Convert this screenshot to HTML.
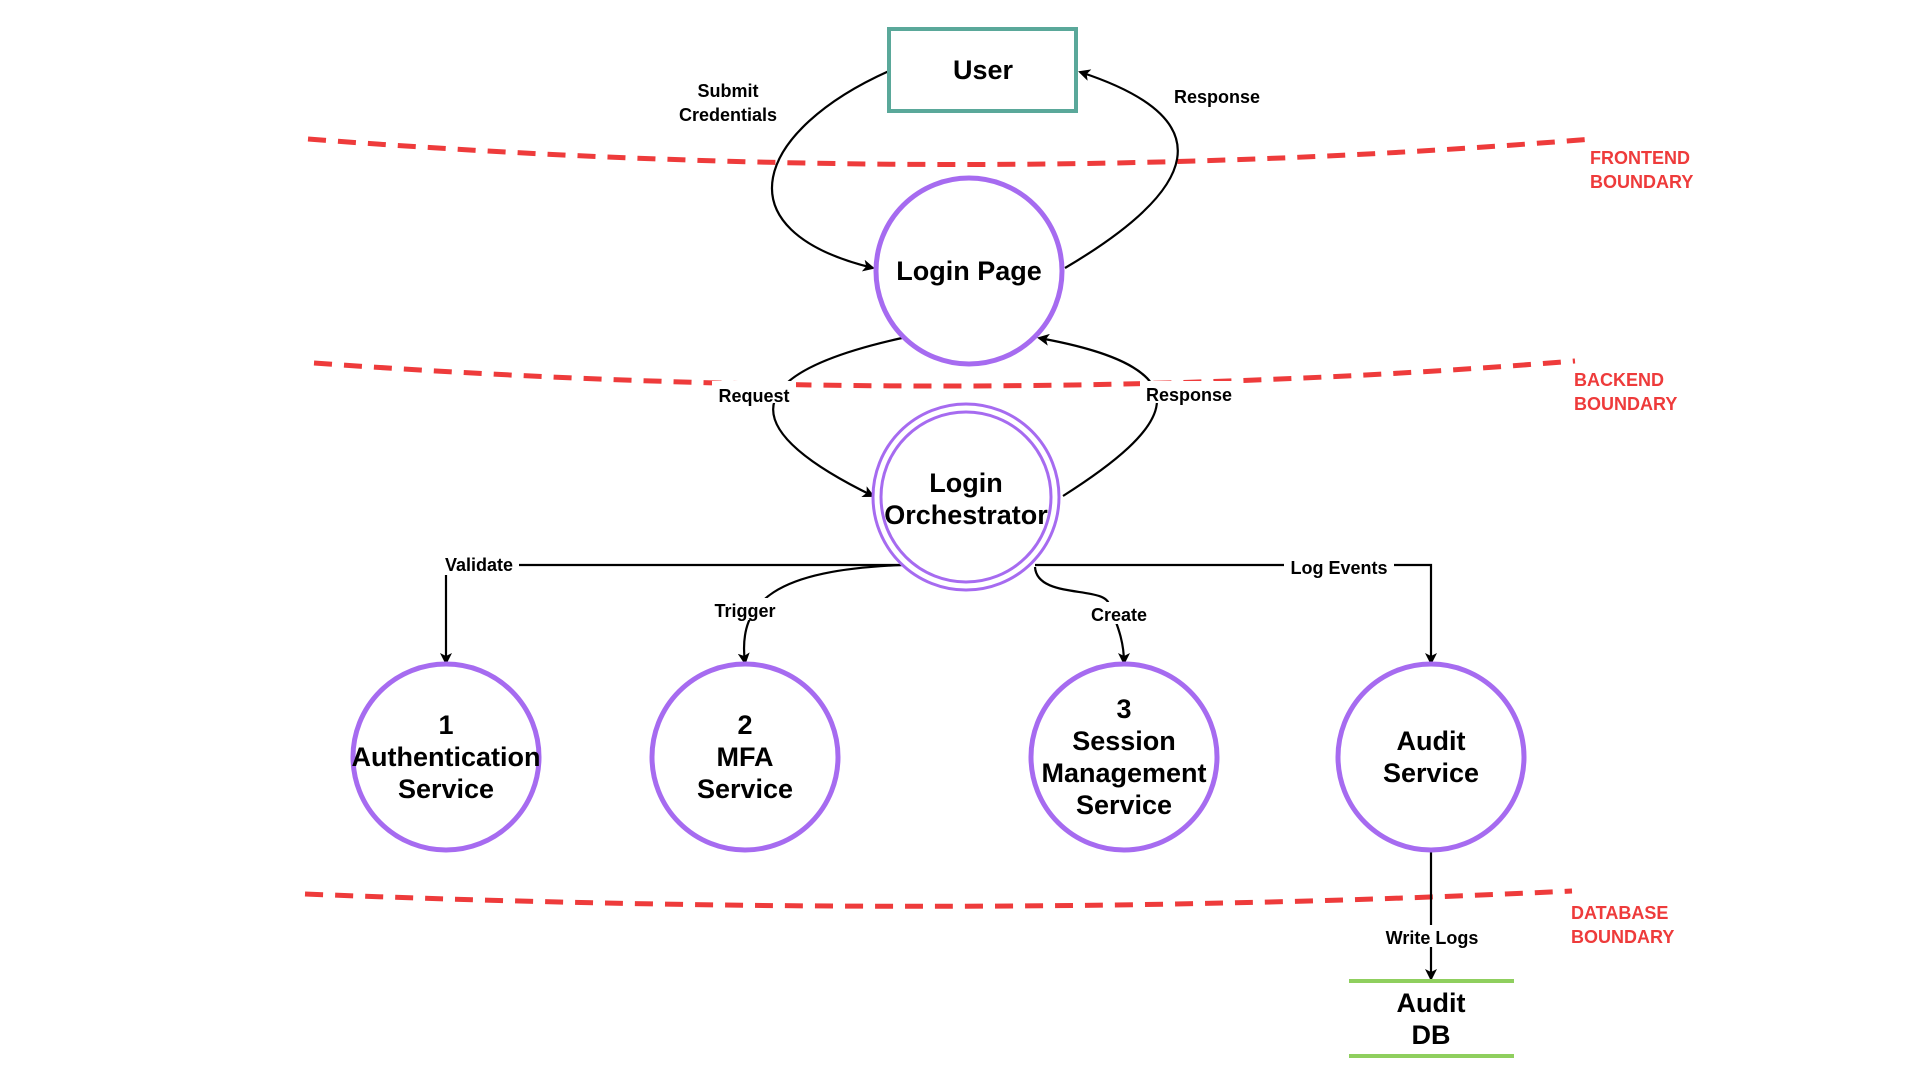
<!DOCTYPE html>
<html><head><meta charset="utf-8"><style>
html,body{margin:0;padding:0;background:#fff;}
svg{display:block;}
text{font-family:"Liberation Sans",Arial,sans-serif;font-weight:bold;}
</style></head><body>
<svg width="1920" height="1080" viewBox="0 0 1920 1080" xmlns="http://www.w3.org/2000/svg">
<defs>
<marker id="a" markerWidth="12" markerHeight="12" refX="10" refY="6" orient="auto" markerUnits="userSpaceOnUse">
<path d="M0,0 L12,6 L0,12 L3,6 Z" fill="#000"/></marker>
</defs>
<g fill="none" stroke="#ee3b3b" stroke-width="5" stroke-dasharray="18,12">
<path d="M308,139 Q968,190 1592,139"/>
<path d="M314,363 Q968,410 1575,361"/>
<path d="M305,894 Q968,920 1572,891"/>
</g>
<g fill="#ee3b3b" font-size="18">
<text x="1590" y="164">FRONTEND</text><text x="1590" y="188">BOUNDARY</text>
<text x="1574" y="386">BACKEND</text><text x="1574" y="410">BOUNDARY</text>
<text x="1571" y="919">DATABASE</text><text x="1571" y="943">BOUNDARY</text>
</g>
<g fill="none" stroke="#000" stroke-width="2.2">
<path d="M889,71 C757,130 717,230 873,268" marker-end="url(#a)"/>
<path d="M1065,268 C1197,190 1227,120 1080,72" marker-end="url(#a)"/>
<path d="M902,338 C757,370 717,420 873,496" marker-end="url(#a)"/>
<path d="M1063,496 C1167,430 1217,370 1039,338" marker-end="url(#a)"/>
<path d="M902,565 L446,565 L446,663" marker-end="url(#a)"/>
<path d="M1035,565 L1431,565 L1431,663" marker-end="url(#a)"/>
<path d="M902,565 C777,570 737,600 745,663" marker-end="url(#a)"/>
<path d="M1035,567 C1037,600 1107,585 1109,605 C1120,630 1124,645 1124,663" marker-end="url(#a)"/>
<path d="M1431,851 L1431,979" marker-end="url(#a)"/>
</g>
<g font-size="18" text-anchor="middle" fill="#000">
<rect x="673" y="78" width="112" height="48" fill="#fff"/>
<text x="728" y="97">Submit</text><text x="728" y="121">Credentials</text>
<text x="1217" y="103">Response</text>
<rect x="712" y="381" width="84" height="22" fill="#fff"/>
<text x="754" y="402">Request</text>
<rect x="1140" y="381" width="98" height="22" fill="#fff"/>
<text x="1189" y="401">Response</text>
<rect x="439" y="553" width="80" height="22" fill="#fff"/>
<text x="479" y="571">Validate</text>
<rect x="1284" y="556" width="110" height="22" fill="#fff"/>
<text x="1339" y="574">Log Events</text>
<rect x="709" y="598" width="72" height="22" fill="#fff"/>
<text x="745" y="617">Trigger</text>
<rect x="1086" y="602" width="66" height="22" fill="#fff"/>
<text x="1119" y="621">Create</text>
<rect x="1377" y="925" width="110" height="22" fill="#fff"/>
<text x="1432" y="944">Write Logs</text>
</g>
<rect x="889" y="29" width="187" height="82" fill="#fff" stroke="#5aa89a" stroke-width="4"/>
<g fill="#fff" stroke="#a66bf0" stroke-width="5">
<circle cx="969" cy="271" r="93"/>
<circle cx="446" cy="757" r="93"/>
<circle cx="745" cy="757" r="93"/>
<circle cx="1124" cy="757" r="93"/>
<circle cx="1431" cy="757" r="93"/>
</g>
<g fill="#fff" stroke="#a66bf0" stroke-width="3">
<circle cx="966" cy="497" r="93"/>
<circle cx="966" cy="497" r="85"/>
</g>
<g stroke="#8fcf5e" stroke-width="4">
<line x1="1349" y1="981" x2="1514" y2="981"/>
<line x1="1349" y1="1056" x2="1514" y2="1056"/>
</g>
<g font-size="27" text-anchor="middle" fill="#000">
<text x="983" y="79">User</text>
<text x="969" y="280">Login Page</text>
<text x="966" y="492">Login</text><text x="966" y="524">Orchestrator</text>
<text x="446" y="734">1</text><text x="446" y="766">Authentication</text><text x="446" y="798">Service</text>
<text x="745" y="734">2</text><text x="745" y="766">MFA</text><text x="745" y="798">Service</text>
<text x="1124" y="718">3</text><text x="1124" y="750">Session</text><text x="1124" y="782">Management</text><text x="1124" y="814">Service</text>
<text x="1431" y="750">Audit</text><text x="1431" y="782">Service</text>
<text x="1431" y="1012">Audit</text><text x="1431" y="1044">DB</text>
</g>
</svg>
</body></html>
